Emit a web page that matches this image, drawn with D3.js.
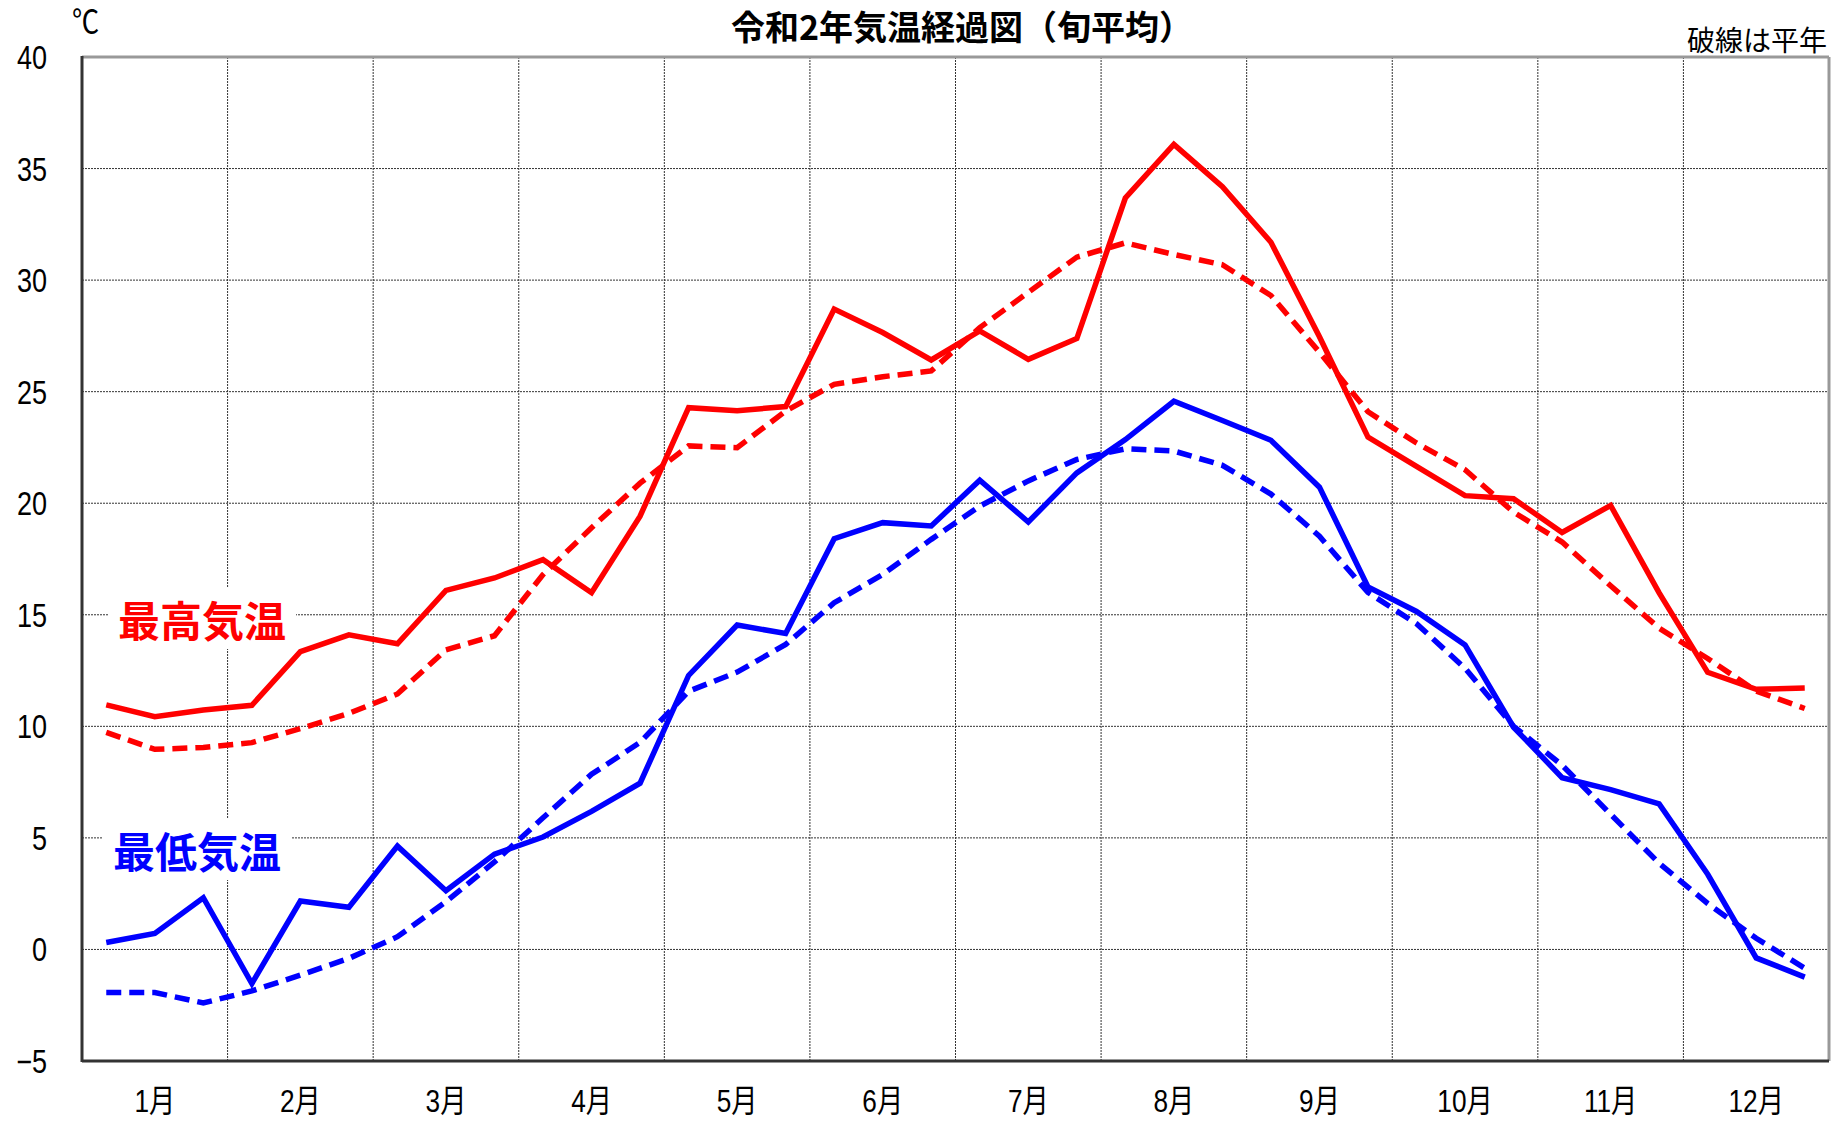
<!DOCTYPE html>
<html><head><meta charset="utf-8">
<script src="https://cdn.jsdelivr.net/npm/d3@7"></script>
<style>
html,body{margin:0;padding:0;background:#fff;}
svg{display:block;}
</style></head>
<body>
<svg id="c" width="1832" height="1123"></svg>
<script>
const months = ["1月","2月","3月","4月","5月","6月","7月","8月","9月","10月","11月","12月"];
const yTicks = [-5,0,5,10,15,20,25,30,35,40];
const yTickLabels = ["−5","0","5","10","15","20","25","30","35","40"];
// 旬平均 (上旬・中旬・下旬) x 12 months
const maxTemp = [10.96,10.43,10.73, 10.94,13.35,14.10, 13.70,16.09,16.65, 17.47,15.99,19.42,
  24.28,24.15,24.33, 28.70,27.65,26.42, 27.72,26.45,27.38, 33.68,36.08,34.19,
  31.70,27.46,22.96, 21.65,20.34,20.20, 18.69,19.90,15.98, 12.42,11.66,11.72];
const maxNormal = [9.73,8.97,9.05, 9.27,9.90,10.58, 11.45,13.43,14.06, 16.80,18.90,20.90,
  22.57,22.49,24.13, 25.33,25.67,25.93, 27.87,29.45,31.03, 31.67,31.15,30.69,
  29.31,26.77,24.10, 22.70,21.50,19.60, 18.26,16.30,14.40, 13.04,11.58,10.80];
const minTemp = [0.31,0.72,2.32, -1.53,2.17,1.89, 4.63,2.63,4.27, 5.04,6.19,7.45,
  12.28,14.54,14.16, 18.41,19.13,18.98, 21.03,19.16,21.36, 22.85,24.57,23.71,
  22.82,20.72,16.25, 15.15,13.65,9.96, 7.70,7.16,6.52, 3.37,-0.38,-1.24];
const minNormal = [-1.93,-1.93,-2.40, -1.86,-1.15,-0.40, 0.57,2.14,3.92, 5.90,7.85,9.28,
  11.57,12.43,13.67, 15.54,16.81,18.38, 19.87,21.00,21.96, 22.44,22.34,21.70,
  20.41,18.52,16.00, 14.60,12.60,10.00, 8.26,6.06,3.86, 2.06,0.50,-0.84];

const svg = d3.select("#c");
const L = 82, R = 1829, T = 57, B = 1061;
const font = "'Liberation Sans','Noto Sans CJK JP',sans-serif";

const x = d3.scaleLinear().domain([0, 36]).range([L, R]);
const y = d3.scaleLinear().domain([-5, 40]).range([B, T]);
const xm = d3.scaleBand().domain(months).range([L, R]);

// grid
const g = svg.append("g");
g.selectAll("line.h").data(yTicks.filter(v => v > -5 && v < 40)).enter().append("line")
  .attr("x1", L).attr("x2", R).attr("y1", d => y(d)).attr("y2", d => y(d))
  .attr("stroke", "#333").attr("stroke-width", 1).attr("stroke-dasharray", "2,1");
g.selectAll("line.v").data(months.slice(1)).enter().append("line")
  .attr("x1", d => xm(d)).attr("x2", d => xm(d)).attr("y1", T).attr("y2", B)
  .attr("stroke", "#333").attr("stroke-width", 1).attr("stroke-dasharray", "2,1");

// frame
svg.append("line").attr("x1", L).attr("x2", R).attr("y1", T).attr("y2", T).attr("stroke", "#999").attr("stroke-width", 3);
svg.append("line").attr("x1", R).attr("x2", R).attr("y1", T).attr("y2", B).attr("stroke", "#999").attr("stroke-width", 3);
svg.append("line").attr("x1", L).attr("x2", R).attr("y1", B).attr("y2", B).attr("stroke", "#333").attr("stroke-width", 3);
svg.append("line").attr("x1", L).attr("x2", L).attr("y1", T-1).attr("y2", B+1).attr("stroke", "#333").attr("stroke-width", 3);

// y tick labels (condensed)
svg.selectAll("text.yt").data(yTicks).enter().append("text")
  .attr("transform", d => `translate(47,${y(d) + 12}) scale(0.82,1)`)
  .attr("text-anchor", "end")
  .attr("font-family", font).attr("font-size", 33).attr("fill", "#000")
  .text((d, i) => yTickLabels[i]);

// month labels (condensed)
svg.selectAll("text.mt").data(months).enter().append("text")
  .attr("transform", d => `translate(${xm(d) + xm.bandwidth() / 2},1112) scale(0.82,1)`)
  .attr("text-anchor", "middle")
  .attr("font-family", font).attr("font-size", 32).attr("fill", "#000")
  .text(d => d);

// series labels with white background
function seriesLabel(txt, cx, cy, color) {
  const t = svg.append("text").attr("x", cx).attr("y", cy + 15).attr("text-anchor", "middle")
    .attr("font-family", "'Noto Sans CJK JP',sans-serif").attr("font-weight", "bold")
    .attr("font-size", 42).attr("fill", color).text(txt);
  const bb = t.node().getBBox();
  svg.insert("rect", "text").attr("x", bb.x - 10).attr("y", bb.y).attr("width", bb.width + 20)
    .attr("height", bb.height).attr("fill", "#fff");
}
seriesLabel("最高気温", 202, 622, "#ff0000");
seriesLabel("最低気温", 197, 853, "#0000ff");

// lines
const line = d3.line().x((d, i) => x(i + 0.5)).y(d => y(d));
const series = [
  {data: maxNormal, color: "#ff0000", dash: "15,8"},
  {data: minNormal, color: "#0000ff", dash: "15,8"},
  {data: maxTemp, color: "#ff0000", dash: null},
  {data: minTemp, color: "#0000ff", dash: null}
];
series.forEach(s => {
  svg.append("path").datum(s.data).attr("d", line).attr("fill", "none")
    .attr("stroke", s.color).attr("stroke-width", 5.5)
    .attr("stroke-linejoin", "miter").attr("stroke-linecap", "butt")
    .attr("stroke-dasharray", s.dash);
});

// texts
svg.append("text").attr("transform", "translate(72,33) scale(0.85,1)")
  .attr("font-family", font).attr("font-size", 32).text("℃");
svg.append("text").attr("x", 1827).attr("y", 51).attr("text-anchor", "end")
  .attr("font-family", "'Noto Sans CJK JP',sans-serif").attr("font-size", 28).text("破線は平年");
svg.append("text").attr("x", 962).attr("y", 40).attr("text-anchor", "middle")
  .attr("font-family", "'Noto Sans CJK JP',sans-serif").attr("font-weight", "bold").attr("font-size", 34)
  .text("令和2年気温経過図（旬平均）");
</script>
</body></html>
